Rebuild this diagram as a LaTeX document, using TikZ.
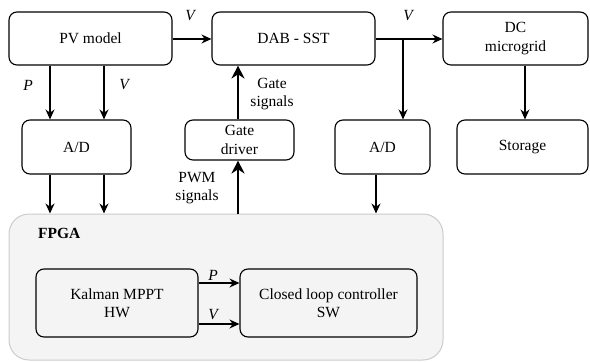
\documentclass[tikz,border=0pt]{standalone}
\usepackage{fontspec}
\setmainfont{Liberation Serif}
\usetikzlibrary{arrows.meta}
\definecolor{fpgafill}{HTML}{F4F4F4}
\definecolor{fpgadraw}{HTML}{CCCCCC}
\newcommand{\fs}{\fontsize{15.5}{18.5}\selectfont}
\begin{document}
\begin{tikzpicture}[x=1pt,y=-1pt,
  blk/.style={draw, line width=1.1pt, rounded corners=8pt, align=center, inner sep=0pt, font=\fs},
  arr/.style={line width=1.1pt, -{Stealth[length=10pt,width=9pt]}},
  thickarr/.style={line width=2.4pt, -{Stealth[length=13pt,width=13pt]}},
  lbl/.style={font=\fs\itshape, inner sep=0pt},
  txt/.style={align=center, inner sep=0pt, font=\fs}]
\useasboundingbox (0,0) rectangle (590,362);
% FPGA container
\node[draw=fpgadraw, fill=fpgafill, line width=1pt, rounded corners=20pt,
      minimum width=434pt, minimum height=146pt, inner sep=0pt] (F) at (226,287) {};
\node[anchor=west, font=\fs\bfseries, inner sep=0pt] (Flbl) at (38,233) {FPGA};
% blocks
\node[blk, minimum width=163pt, minimum height=53pt] (PV) at (90.5,38.5) {PV model};
\node[blk, minimum width=163pt, minimum height=53pt] (DAB) at (293.5,38.5) {DAB - SST};
\node[blk, minimum width=145pt, minimum height=53pt] (DC) at (515.5,38.5) {DC\\microgrid};
\node[blk, minimum width=109pt, minimum height=54pt] (ADL) at (76.5,147) {A/D};
\node[blk, minimum width=109pt, minimum height=40pt] (G) at (239.5,140) {Gate\\driver};
\node[blk, minimum width=95pt, minimum height=54pt] (ADR) at (382.5,147) {A/D};
\node[blk, minimum width=131pt, minimum height=54pt] (ST) at (522.5,147) {Storage};
\node[blk, minimum width=162pt, minimum height=68pt] (K) at (117,303) {Kalman MPPT\\HW};
\node[blk, minimum width=177pt, minimum height=68pt] (C) at (328.5,303) {Closed loop controller\\SW};
% helper coordinates
\coordinate (xa) at (50,0);
\coordinate (xb) at (104,0);
\coordinate (xg) at (238,0);
\coordinate (br) at (403,39);
\coordinate (xr) at (376,0);
\coordinate (xs) at (525,0);
\coordinate (yp) at (0,283);
\coordinate (yv) at (0,324);
% connectors
\draw[arr] (PV.east |- br) -- (DAB.west |- br);
\draw[arr] (DAB.east |- br) -- (DC.west |- br);
\draw[arr] (br) -- (ADR.north -| br);
\draw[arr] (PV.south -| xa) -- (ADL.north -| xa);
\draw[arr] (PV.south -| xb) -- (ADL.north -| xb);
\draw[arr] (ADL.south -| xa) -- (F.north -| xa);
\draw[arr] (ADL.south -| xb) -- (F.north -| xb);
\draw[arr] (ADR.south -| xr) -- (F.north -| xr);
\draw[arr] (DC.south -| xs) -- (ST.north -| xs);
\draw[thickarr] (G.north -| xg) -- (DAB.south -| xg);
\draw[thickarr] (F.north -| xg) -- (G.south -| xg);
\draw[arr] (K.east |- yp) -- (C.west |- yp);
\draw[arr] (K.east |- yv) -- (C.west |- yv);
% labels
\node[lbl] (l1) at (190,16) {V};
\node[lbl] (l2) at (408,16) {V};
\node[lbl] (l3) at (28,85) {P};
\node[lbl] (l4) at (124,85) {V};
\node[txt] (l5) at (272,94) {Gate\\signals};
\node[txt] (l6) at (197,188) {PWM\\signals};
\node[lbl] (l7) at (213,275) {P};
\node[lbl] (l8) at (213,315) {V};
\end{tikzpicture}
\end{document}
